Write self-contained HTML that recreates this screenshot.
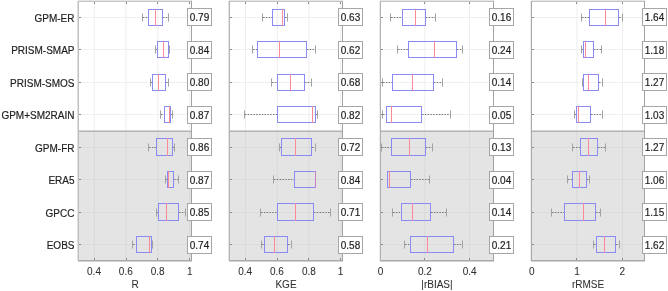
<!DOCTYPE html>
<html><head><meta charset="utf-8"><style>
html,body{margin:0;padding:0;background:#fff;width:668px;height:291px;overflow:hidden}
svg{display:block;will-change:transform}
.k{font-family:"Liberation Sans",sans-serif;font-size:10px;fill:#2e2e2e;stroke:#2e2e2e;stroke-width:0.05px}
.t{font-family:"Liberation Sans",sans-serif;font-size:10px;fill:#1e1e1e;stroke:#1e1e1e;stroke-width:0.18px}
</style></head><body>
<svg width="668" height="291" viewBox="0 0 668 291">
<g shape-rendering="crispEdges">
<rect x="79" y="132" width="112" height="128" fill="#e4e4e4"/>
<rect x="93" y="2" width="1" height="130" fill="#fcfcfc"/>
<rect x="93" y="132" width="1" height="128" fill="#e2e2e2"/>
<rect x="94" y="2" width="1" height="130" fill="#f1f1f1"/>
<rect x="94" y="132" width="1" height="128" fill="#dbdbdb"/>
<rect x="125" y="2" width="1" height="130" fill="#f6f6f6"/>
<rect x="125" y="132" width="1" height="128" fill="#dedede"/>
<rect x="126" y="2" width="1" height="130" fill="#f6f6f6"/>
<rect x="126" y="132" width="1" height="128" fill="#dedede"/>
<rect x="157" y="2" width="1" height="130" fill="#f5f5f5"/>
<rect x="157" y="132" width="1" height="128" fill="#dddddd"/>
<rect x="158" y="2" width="1" height="130" fill="#f8f8f8"/>
<rect x="158" y="132" width="1" height="128" fill="#e0e0e0"/>
<rect x="189" y="2" width="1" height="130" fill="#f1f1f1"/>
<rect x="189" y="132" width="1" height="128" fill="#dbdbdb"/>
<rect x="190" y="2" width="1" height="130" fill="#fcfcfc"/>
<rect x="190" y="132" width="1" height="128" fill="#e2e2e2"/>
<rect x="79" y="17" width="112" height="1" fill="#f0f0f0"/>
<rect x="79" y="49" width="112" height="1" fill="#f0f0f0"/>
<rect x="79" y="82" width="112" height="1" fill="#f0f0f0"/>
<rect x="79" y="114" width="112" height="1" fill="#f0f0f0"/>
<rect x="79" y="147" width="112" height="1" fill="#dcdcdc"/>
<rect x="79" y="179" width="112" height="1" fill="#dcdcdc"/>
<rect x="79" y="212" width="112" height="1" fill="#dcdcdc"/>
<rect x="79" y="244" width="112" height="1" fill="#dcdcdc"/>
<rect x="79" y="130" width="112" height="1" fill="#d6d6d6"/>
<rect x="79" y="131" width="112" height="1" fill="#b4b4b4"/>
<line x1="143" y1="17.5" x2="148" y2="17.5" stroke="#787878" stroke-width="1" stroke-dasharray="1.5,1.3" shape-rendering="auto"/>
<line x1="163" y1="17.5" x2="168" y2="17.5" stroke="#787878" stroke-width="1" stroke-dasharray="1.5,1.3" shape-rendering="auto"/>
<rect x="142" y="13" width="1" height="9" fill="#cacaca"/>
<rect x="142" y="14" width="1" height="7" fill="#a2a2a2"/>
<rect x="168" y="13" width="1" height="9" fill="#cacaca"/>
<rect x="168" y="14" width="1" height="7" fill="#a2a2a2"/>
<rect x="148" y="9" width="15" height="1" fill="#8a8af4"/>
<rect x="148" y="25" width="15" height="1" fill="#8a8af4"/>
<rect x="148" y="9" width="1" height="17" fill="#8a8af4"/>
<rect x="162" y="9" width="1" height="17" fill="#8a8af4"/>
<rect x="155" y="9" width="1" height="17" fill="#fa8a96"/>
<line x1="156" y1="49.5" x2="157" y2="49.5" stroke="#787878" stroke-width="1" stroke-dasharray="1.5,1.3" shape-rendering="auto"/>
<rect x="155" y="45" width="1" height="9" fill="#cacaca"/>
<rect x="155" y="46" width="1" height="7" fill="#a2a2a2"/>
<rect x="169" y="45" width="1" height="9" fill="#cacaca"/>
<rect x="169" y="46" width="1" height="7" fill="#a2a2a2"/>
<rect x="157" y="41" width="12" height="1" fill="#8a8af4"/>
<rect x="157" y="57" width="12" height="1" fill="#8a8af4"/>
<rect x="157" y="41" width="1" height="17" fill="#8a8af4"/>
<rect x="168" y="41" width="1" height="17" fill="#8a8af4"/>
<rect x="163" y="41" width="1" height="17" fill="#fa8a96"/>
<line x1="151" y1="82.5" x2="152" y2="82.5" stroke="#787878" stroke-width="1" stroke-dasharray="1.5,1.3" shape-rendering="auto"/>
<line x1="166" y1="82.5" x2="168" y2="82.5" stroke="#787878" stroke-width="1" stroke-dasharray="1.5,1.3" shape-rendering="auto"/>
<rect x="150" y="78" width="1" height="9" fill="#cacaca"/>
<rect x="150" y="79" width="1" height="7" fill="#a2a2a2"/>
<rect x="168" y="78" width="1" height="9" fill="#cacaca"/>
<rect x="168" y="79" width="1" height="7" fill="#a2a2a2"/>
<rect x="152" y="74" width="14" height="1" fill="#8a8af4"/>
<rect x="152" y="90" width="14" height="1" fill="#8a8af4"/>
<rect x="152" y="74" width="1" height="17" fill="#8a8af4"/>
<rect x="165" y="74" width="1" height="17" fill="#8a8af4"/>
<rect x="158" y="74" width="1" height="17" fill="#fa8a96"/>
<line x1="161" y1="114.5" x2="164" y2="114.5" stroke="#787878" stroke-width="1" stroke-dasharray="1.5,1.3" shape-rendering="auto"/>
<line x1="171" y1="114.5" x2="172" y2="114.5" stroke="#787878" stroke-width="1" stroke-dasharray="1.5,1.3" shape-rendering="auto"/>
<rect x="160" y="110" width="1" height="9" fill="#cacaca"/>
<rect x="160" y="111" width="1" height="7" fill="#a2a2a2"/>
<rect x="172" y="110" width="1" height="9" fill="#cacaca"/>
<rect x="172" y="111" width="1" height="7" fill="#a2a2a2"/>
<rect x="164" y="106" width="7" height="1" fill="#8a8af4"/>
<rect x="164" y="122" width="7" height="1" fill="#8a8af4"/>
<rect x="164" y="106" width="1" height="17" fill="#8a8af4"/>
<rect x="170" y="106" width="1" height="17" fill="#8a8af4"/>
<rect x="169" y="106" width="1" height="17" fill="#fa8a96"/>
<line x1="149" y1="147.5" x2="156" y2="147.5" stroke="#787878" stroke-width="1" stroke-dasharray="1.5,1.3" shape-rendering="auto"/>
<line x1="173" y1="147.5" x2="174" y2="147.5" stroke="#787878" stroke-width="1" stroke-dasharray="1.5,1.3" shape-rendering="auto"/>
<rect x="148" y="143" width="1" height="9" fill="#c0c0c0"/>
<rect x="148" y="144" width="1" height="7" fill="#a2a2a2"/>
<rect x="174" y="143" width="1" height="9" fill="#c0c0c0"/>
<rect x="174" y="144" width="1" height="7" fill="#a2a2a2"/>
<rect x="156" y="138" width="17" height="1" fill="#8a8af4"/>
<rect x="156" y="155" width="17" height="1" fill="#8a8af4"/>
<rect x="156" y="138" width="1" height="18" fill="#8a8af4"/>
<rect x="172" y="138" width="1" height="18" fill="#8a8af4"/>
<rect x="167" y="138" width="1" height="18" fill="#fa8a96"/>
<line x1="166" y1="179.5" x2="167" y2="179.5" stroke="#787878" stroke-width="1" stroke-dasharray="1.5,1.3" shape-rendering="auto"/>
<line x1="174" y1="179.5" x2="178" y2="179.5" stroke="#787878" stroke-width="1" stroke-dasharray="1.5,1.3" shape-rendering="auto"/>
<rect x="165" y="175" width="1" height="9" fill="#c0c0c0"/>
<rect x="165" y="176" width="1" height="7" fill="#a2a2a2"/>
<rect x="178" y="175" width="1" height="9" fill="#c0c0c0"/>
<rect x="178" y="176" width="1" height="7" fill="#a2a2a2"/>
<rect x="167" y="171" width="7" height="1" fill="#8a8af4"/>
<rect x="167" y="187" width="7" height="1" fill="#8a8af4"/>
<rect x="167" y="171" width="1" height="17" fill="#8a8af4"/>
<rect x="173" y="171" width="1" height="17" fill="#8a8af4"/>
<rect x="168" y="171" width="1" height="17" fill="#fa8a96"/>
<line x1="157" y1="212.5" x2="158" y2="212.5" stroke="#787878" stroke-width="1" stroke-dasharray="1.5,1.3" shape-rendering="auto"/>
<line x1="179" y1="212.5" x2="185" y2="212.5" stroke="#787878" stroke-width="1" stroke-dasharray="1.5,1.3" shape-rendering="auto"/>
<rect x="156" y="208" width="1" height="9" fill="#c0c0c0"/>
<rect x="156" y="209" width="1" height="7" fill="#a2a2a2"/>
<rect x="185" y="208" width="1" height="9" fill="#c0c0c0"/>
<rect x="185" y="209" width="1" height="7" fill="#a2a2a2"/>
<rect x="158" y="203" width="21" height="1" fill="#8a8af4"/>
<rect x="158" y="220" width="21" height="1" fill="#8a8af4"/>
<rect x="158" y="203" width="1" height="18" fill="#8a8af4"/>
<rect x="178" y="203" width="1" height="18" fill="#8a8af4"/>
<rect x="166" y="203" width="1" height="18" fill="#fa8a96"/>
<line x1="133" y1="244.5" x2="136" y2="244.5" stroke="#787878" stroke-width="1" stroke-dasharray="1.5,1.3" shape-rendering="auto"/>
<rect x="132" y="240" width="1" height="9" fill="#c0c0c0"/>
<rect x="132" y="241" width="1" height="7" fill="#a2a2a2"/>
<rect x="152" y="240" width="1" height="9" fill="#c0c0c0"/>
<rect x="152" y="241" width="1" height="7" fill="#a2a2a2"/>
<rect x="136" y="236" width="16" height="1" fill="#8a8af4"/>
<rect x="136" y="252" width="16" height="1" fill="#8a8af4"/>
<rect x="136" y="236" width="1" height="17" fill="#8a8af4"/>
<rect x="151" y="236" width="1" height="17" fill="#8a8af4"/>
<rect x="149" y="236" width="1" height="17" fill="#fa8a96"/>
<rect x="78" y="1" width="114" height="1" fill="#c4c4c4"/>
<rect x="78" y="0" width="114" height="1" fill="#e6e6e6"/>
<rect x="78" y="260" width="114" height="1" fill="#aaaaaa"/>
<rect x="78" y="261" width="114" height="1" fill="#d2d2d2"/>
<rect x="78" y="1" width="1" height="260" fill="#c0c0c0"/>
<rect x="77" y="1" width="1" height="260" fill="#e0e0e0"/>
<rect x="191" y="1" width="1" height="260" fill="#a2a2a2"/>
<rect x="94" y="2" width="1" height="2" fill="#8a8a8a"/>
<rect x="94" y="258" width="1" height="2" fill="#8a8a8a"/>
<rect x="126" y="2" width="1" height="2" fill="#8a8a8a"/>
<rect x="126" y="258" width="1" height="2" fill="#8a8a8a"/>
<rect x="157" y="2" width="1" height="2" fill="#8a8a8a"/>
<rect x="157" y="258" width="1" height="2" fill="#8a8a8a"/>
<rect x="189" y="2" width="1" height="2" fill="#8a8a8a"/>
<rect x="189" y="258" width="1" height="2" fill="#8a8a8a"/>
<rect x="79" y="17" width="2" height="1" fill="#8a8a8a"/>
<rect x="189" y="17" width="2" height="1" fill="#8a8a8a"/>
<rect x="79" y="49" width="2" height="1" fill="#8a8a8a"/>
<rect x="189" y="49" width="2" height="1" fill="#8a8a8a"/>
<rect x="79" y="82" width="2" height="1" fill="#8a8a8a"/>
<rect x="189" y="82" width="2" height="1" fill="#8a8a8a"/>
<rect x="79" y="114" width="2" height="1" fill="#8a8a8a"/>
<rect x="189" y="114" width="2" height="1" fill="#8a8a8a"/>
<rect x="79" y="147" width="2" height="1" fill="#8a8a8a"/>
<rect x="189" y="147" width="2" height="1" fill="#8a8a8a"/>
<rect x="79" y="179" width="2" height="1" fill="#8a8a8a"/>
<rect x="189" y="179" width="2" height="1" fill="#8a8a8a"/>
<rect x="79" y="212" width="2" height="1" fill="#8a8a8a"/>
<rect x="189" y="212" width="2" height="1" fill="#8a8a8a"/>
<rect x="79" y="244" width="2" height="1" fill="#8a8a8a"/>
<rect x="189" y="244" width="2" height="1" fill="#8a8a8a"/>
<rect x="187" y="8" width="25" height="18" fill="#a6a6a6"/>
<rect x="188" y="9" width="23" height="16" fill="#fff"/>
<rect x="187" y="41" width="25" height="18" fill="#a6a6a6"/>
<rect x="188" y="42" width="23" height="16" fill="#fff"/>
<rect x="187" y="73" width="25" height="18" fill="#a6a6a6"/>
<rect x="188" y="74" width="23" height="16" fill="#fff"/>
<rect x="187" y="106" width="25" height="18" fill="#a6a6a6"/>
<rect x="188" y="107" width="23" height="16" fill="#fff"/>
<rect x="187" y="138" width="25" height="18" fill="#a6a6a6"/>
<rect x="188" y="139" width="23" height="16" fill="#fff"/>
<rect x="187" y="171" width="25" height="18" fill="#a6a6a6"/>
<rect x="188" y="172" width="23" height="16" fill="#fff"/>
<rect x="187" y="203" width="25" height="18" fill="#a6a6a6"/>
<rect x="188" y="204" width="23" height="16" fill="#fff"/>
<rect x="187" y="236" width="25" height="18" fill="#a6a6a6"/>
<rect x="188" y="237" width="23" height="16" fill="#fff"/>
<rect x="230" y="132" width="112" height="128" fill="#e4e4e4"/>
<rect x="245" y="2" width="1" height="130" fill="#eeeeee"/>
<rect x="245" y="132" width="1" height="128" fill="#d9d9d9"/>
<rect x="276" y="2" width="1" height="130" fill="#fbfbfb"/>
<rect x="276" y="132" width="1" height="128" fill="#e1e1e1"/>
<rect x="277" y="2" width="1" height="130" fill="#f2f2f2"/>
<rect x="277" y="132" width="1" height="128" fill="#dcdcdc"/>
<rect x="308" y="2" width="1" height="130" fill="#f6f6f6"/>
<rect x="308" y="132" width="1" height="128" fill="#dedede"/>
<rect x="309" y="2" width="1" height="130" fill="#f6f6f6"/>
<rect x="309" y="132" width="1" height="128" fill="#dedede"/>
<rect x="340" y="2" width="1" height="130" fill="#f2f2f2"/>
<rect x="340" y="132" width="1" height="128" fill="#dcdcdc"/>
<rect x="341" y="2" width="1" height="130" fill="#fbfbfb"/>
<rect x="341" y="132" width="1" height="128" fill="#e1e1e1"/>
<rect x="230" y="17" width="112" height="1" fill="#f0f0f0"/>
<rect x="230" y="49" width="112" height="1" fill="#f0f0f0"/>
<rect x="230" y="82" width="112" height="1" fill="#f0f0f0"/>
<rect x="230" y="114" width="112" height="1" fill="#f0f0f0"/>
<rect x="230" y="147" width="112" height="1" fill="#dcdcdc"/>
<rect x="230" y="179" width="112" height="1" fill="#dcdcdc"/>
<rect x="230" y="212" width="112" height="1" fill="#dcdcdc"/>
<rect x="230" y="244" width="112" height="1" fill="#dcdcdc"/>
<rect x="230" y="130" width="112" height="1" fill="#d6d6d6"/>
<rect x="230" y="131" width="112" height="1" fill="#b4b4b4"/>
<line x1="263" y1="17.5" x2="272" y2="17.5" stroke="#787878" stroke-width="1" stroke-dasharray="1.5,1.3" shape-rendering="auto"/>
<line x1="285" y1="17.5" x2="287" y2="17.5" stroke="#787878" stroke-width="1" stroke-dasharray="1.5,1.3" shape-rendering="auto"/>
<rect x="262" y="13" width="1" height="9" fill="#cacaca"/>
<rect x="262" y="14" width="1" height="7" fill="#a2a2a2"/>
<rect x="287" y="13" width="1" height="9" fill="#cacaca"/>
<rect x="287" y="14" width="1" height="7" fill="#a2a2a2"/>
<rect x="272" y="9" width="13" height="1" fill="#8a8af4"/>
<rect x="272" y="25" width="13" height="1" fill="#8a8af4"/>
<rect x="272" y="9" width="1" height="17" fill="#8a8af4"/>
<rect x="284" y="9" width="1" height="17" fill="#8a8af4"/>
<rect x="282" y="9" width="1" height="17" fill="#fa8a96"/>
<line x1="253" y1="49.5" x2="257" y2="49.5" stroke="#787878" stroke-width="1" stroke-dasharray="1.5,1.3" shape-rendering="auto"/>
<line x1="307" y1="49.5" x2="315" y2="49.5" stroke="#787878" stroke-width="1" stroke-dasharray="1.5,1.3" shape-rendering="auto"/>
<rect x="252" y="45" width="1" height="9" fill="#cacaca"/>
<rect x="252" y="46" width="1" height="7" fill="#a2a2a2"/>
<rect x="315" y="45" width="1" height="9" fill="#cacaca"/>
<rect x="315" y="46" width="1" height="7" fill="#a2a2a2"/>
<rect x="257" y="41" width="50" height="1" fill="#8a8af4"/>
<rect x="257" y="57" width="50" height="1" fill="#8a8af4"/>
<rect x="257" y="41" width="1" height="17" fill="#8a8af4"/>
<rect x="306" y="41" width="1" height="17" fill="#8a8af4"/>
<rect x="279" y="41" width="1" height="17" fill="#fa8a96"/>
<line x1="272" y1="82.5" x2="277" y2="82.5" stroke="#787878" stroke-width="1" stroke-dasharray="1.5,1.3" shape-rendering="auto"/>
<line x1="305" y1="82.5" x2="311" y2="82.5" stroke="#787878" stroke-width="1" stroke-dasharray="1.5,1.3" shape-rendering="auto"/>
<rect x="271" y="78" width="1" height="9" fill="#cacaca"/>
<rect x="271" y="79" width="1" height="7" fill="#a2a2a2"/>
<rect x="311" y="78" width="1" height="9" fill="#cacaca"/>
<rect x="311" y="79" width="1" height="7" fill="#a2a2a2"/>
<rect x="277" y="74" width="28" height="1" fill="#8a8af4"/>
<rect x="277" y="90" width="28" height="1" fill="#8a8af4"/>
<rect x="277" y="74" width="1" height="17" fill="#8a8af4"/>
<rect x="304" y="74" width="1" height="17" fill="#8a8af4"/>
<rect x="290" y="74" width="1" height="17" fill="#fa8a96"/>
<line x1="245" y1="114.5" x2="277" y2="114.5" stroke="#787878" stroke-width="1" stroke-dasharray="1.5,1.3" shape-rendering="auto"/>
<line x1="316" y1="114.5" x2="317" y2="114.5" stroke="#787878" stroke-width="1" stroke-dasharray="1.5,1.3" shape-rendering="auto"/>
<rect x="244" y="110" width="1" height="9" fill="#cacaca"/>
<rect x="244" y="111" width="1" height="7" fill="#a2a2a2"/>
<rect x="317" y="110" width="1" height="9" fill="#cacaca"/>
<rect x="317" y="111" width="1" height="7" fill="#a2a2a2"/>
<rect x="277" y="106" width="39" height="1" fill="#8a8af4"/>
<rect x="277" y="122" width="39" height="1" fill="#8a8af4"/>
<rect x="277" y="106" width="1" height="17" fill="#8a8af4"/>
<rect x="315" y="106" width="1" height="17" fill="#8a8af4"/>
<rect x="312" y="106" width="1" height="17" fill="#fa8a96"/>
<line x1="280" y1="147.5" x2="281" y2="147.5" stroke="#787878" stroke-width="1" stroke-dasharray="1.5,1.3" shape-rendering="auto"/>
<line x1="312" y1="147.5" x2="315" y2="147.5" stroke="#787878" stroke-width="1" stroke-dasharray="1.5,1.3" shape-rendering="auto"/>
<rect x="279" y="143" width="1" height="9" fill="#c0c0c0"/>
<rect x="279" y="144" width="1" height="7" fill="#a2a2a2"/>
<rect x="315" y="143" width="1" height="9" fill="#c0c0c0"/>
<rect x="315" y="144" width="1" height="7" fill="#a2a2a2"/>
<rect x="281" y="138" width="31" height="1" fill="#8a8af4"/>
<rect x="281" y="155" width="31" height="1" fill="#8a8af4"/>
<rect x="281" y="138" width="1" height="18" fill="#8a8af4"/>
<rect x="311" y="138" width="1" height="18" fill="#8a8af4"/>
<rect x="295" y="138" width="1" height="18" fill="#fa8a96"/>
<line x1="274" y1="179.5" x2="294" y2="179.5" stroke="#787878" stroke-width="1" stroke-dasharray="1.5,1.3" shape-rendering="auto"/>
<rect x="273" y="175" width="1" height="9" fill="#c0c0c0"/>
<rect x="273" y="176" width="1" height="7" fill="#a2a2a2"/>
<rect x="315" y="175" width="1" height="9" fill="#c0c0c0"/>
<rect x="315" y="176" width="1" height="7" fill="#a2a2a2"/>
<rect x="294" y="171" width="22" height="1" fill="#8a8af4"/>
<rect x="294" y="187" width="22" height="1" fill="#8a8af4"/>
<rect x="294" y="171" width="1" height="17" fill="#8a8af4"/>
<rect x="315" y="171" width="1" height="17" fill="#8a8af4"/>
<rect x="315" y="171" width="1" height="17" fill="#c680c8"/>
<line x1="261" y1="212.5" x2="277" y2="212.5" stroke="#787878" stroke-width="1" stroke-dasharray="1.5,1.3" shape-rendering="auto"/>
<line x1="314" y1="212.5" x2="330" y2="212.5" stroke="#787878" stroke-width="1" stroke-dasharray="1.5,1.3" shape-rendering="auto"/>
<rect x="260" y="208" width="1" height="9" fill="#c0c0c0"/>
<rect x="260" y="209" width="1" height="7" fill="#a2a2a2"/>
<rect x="330" y="208" width="1" height="9" fill="#c0c0c0"/>
<rect x="330" y="209" width="1" height="7" fill="#a2a2a2"/>
<rect x="277" y="203" width="37" height="1" fill="#8a8af4"/>
<rect x="277" y="220" width="37" height="1" fill="#8a8af4"/>
<rect x="277" y="203" width="1" height="18" fill="#8a8af4"/>
<rect x="313" y="203" width="1" height="18" fill="#8a8af4"/>
<rect x="295" y="203" width="1" height="18" fill="#fa8a96"/>
<line x1="262" y1="244.5" x2="264" y2="244.5" stroke="#787878" stroke-width="1" stroke-dasharray="1.5,1.3" shape-rendering="auto"/>
<line x1="288" y1="244.5" x2="291" y2="244.5" stroke="#787878" stroke-width="1" stroke-dasharray="1.5,1.3" shape-rendering="auto"/>
<rect x="261" y="240" width="1" height="9" fill="#c0c0c0"/>
<rect x="261" y="241" width="1" height="7" fill="#a2a2a2"/>
<rect x="291" y="240" width="1" height="9" fill="#c0c0c0"/>
<rect x="291" y="241" width="1" height="7" fill="#a2a2a2"/>
<rect x="264" y="236" width="24" height="1" fill="#8a8af4"/>
<rect x="264" y="252" width="24" height="1" fill="#8a8af4"/>
<rect x="264" y="236" width="1" height="17" fill="#8a8af4"/>
<rect x="287" y="236" width="1" height="17" fill="#8a8af4"/>
<rect x="274" y="236" width="1" height="17" fill="#fa8a96"/>
<rect x="229" y="1" width="114" height="1" fill="#c4c4c4"/>
<rect x="229" y="0" width="114" height="1" fill="#e6e6e6"/>
<rect x="229" y="260" width="114" height="1" fill="#aaaaaa"/>
<rect x="229" y="261" width="114" height="1" fill="#d2d2d2"/>
<rect x="229" y="1" width="1" height="260" fill="#b4b4b4"/>
<rect x="228" y="1" width="1" height="260" fill="#e4e4e4"/>
<rect x="342" y="1" width="1" height="260" fill="#a2a2a2"/>
<rect x="245" y="2" width="1" height="2" fill="#8a8a8a"/>
<rect x="245" y="258" width="1" height="2" fill="#8a8a8a"/>
<rect x="277" y="2" width="1" height="2" fill="#8a8a8a"/>
<rect x="277" y="258" width="1" height="2" fill="#8a8a8a"/>
<rect x="308" y="2" width="1" height="2" fill="#8a8a8a"/>
<rect x="308" y="258" width="1" height="2" fill="#8a8a8a"/>
<rect x="340" y="2" width="1" height="2" fill="#8a8a8a"/>
<rect x="340" y="258" width="1" height="2" fill="#8a8a8a"/>
<rect x="230" y="17" width="2" height="1" fill="#8a8a8a"/>
<rect x="340" y="17" width="2" height="1" fill="#8a8a8a"/>
<rect x="230" y="49" width="2" height="1" fill="#8a8a8a"/>
<rect x="340" y="49" width="2" height="1" fill="#8a8a8a"/>
<rect x="230" y="82" width="2" height="1" fill="#8a8a8a"/>
<rect x="340" y="82" width="2" height="1" fill="#8a8a8a"/>
<rect x="230" y="114" width="2" height="1" fill="#8a8a8a"/>
<rect x="340" y="114" width="2" height="1" fill="#8a8a8a"/>
<rect x="230" y="147" width="2" height="1" fill="#8a8a8a"/>
<rect x="340" y="147" width="2" height="1" fill="#8a8a8a"/>
<rect x="230" y="179" width="2" height="1" fill="#8a8a8a"/>
<rect x="340" y="179" width="2" height="1" fill="#8a8a8a"/>
<rect x="230" y="212" width="2" height="1" fill="#8a8a8a"/>
<rect x="340" y="212" width="2" height="1" fill="#8a8a8a"/>
<rect x="230" y="244" width="2" height="1" fill="#8a8a8a"/>
<rect x="340" y="244" width="2" height="1" fill="#8a8a8a"/>
<rect x="338" y="8" width="25" height="18" fill="#a6a6a6"/>
<rect x="339" y="9" width="23" height="16" fill="#fff"/>
<rect x="338" y="41" width="25" height="18" fill="#a6a6a6"/>
<rect x="339" y="42" width="23" height="16" fill="#fff"/>
<rect x="338" y="73" width="25" height="18" fill="#a6a6a6"/>
<rect x="339" y="74" width="23" height="16" fill="#fff"/>
<rect x="338" y="106" width="25" height="18" fill="#a6a6a6"/>
<rect x="339" y="107" width="23" height="16" fill="#fff"/>
<rect x="338" y="138" width="25" height="18" fill="#a6a6a6"/>
<rect x="339" y="139" width="23" height="16" fill="#fff"/>
<rect x="338" y="171" width="25" height="18" fill="#a6a6a6"/>
<rect x="339" y="172" width="23" height="16" fill="#fff"/>
<rect x="338" y="203" width="25" height="18" fill="#a6a6a6"/>
<rect x="339" y="204" width="23" height="16" fill="#fff"/>
<rect x="338" y="236" width="25" height="18" fill="#a6a6a6"/>
<rect x="339" y="237" width="23" height="16" fill="#fff"/>
<rect x="381" y="132" width="112" height="128" fill="#e4e4e4"/>
<rect x="424" y="2" width="1" height="130" fill="#f3f3f3"/>
<rect x="424" y="132" width="1" height="128" fill="#dcdcdc"/>
<rect x="425" y="2" width="1" height="130" fill="#fafafa"/>
<rect x="425" y="132" width="1" height="128" fill="#e1e1e1"/>
<rect x="469" y="2" width="1" height="130" fill="#eeeeee"/>
<rect x="469" y="132" width="1" height="128" fill="#d9d9d9"/>
<rect x="381" y="17" width="112" height="1" fill="#f0f0f0"/>
<rect x="381" y="49" width="112" height="1" fill="#f0f0f0"/>
<rect x="381" y="82" width="112" height="1" fill="#f0f0f0"/>
<rect x="381" y="114" width="112" height="1" fill="#f0f0f0"/>
<rect x="381" y="147" width="112" height="1" fill="#dcdcdc"/>
<rect x="381" y="179" width="112" height="1" fill="#dcdcdc"/>
<rect x="381" y="212" width="112" height="1" fill="#dcdcdc"/>
<rect x="381" y="244" width="112" height="1" fill="#dcdcdc"/>
<rect x="381" y="130" width="112" height="1" fill="#d6d6d6"/>
<rect x="381" y="131" width="112" height="1" fill="#b4b4b4"/>
<line x1="391" y1="17.5" x2="402" y2="17.5" stroke="#787878" stroke-width="1" stroke-dasharray="1.5,1.3" shape-rendering="auto"/>
<line x1="426" y1="17.5" x2="435" y2="17.5" stroke="#787878" stroke-width="1" stroke-dasharray="1.5,1.3" shape-rendering="auto"/>
<rect x="390" y="13" width="1" height="9" fill="#cacaca"/>
<rect x="390" y="14" width="1" height="7" fill="#a2a2a2"/>
<rect x="435" y="13" width="1" height="9" fill="#cacaca"/>
<rect x="435" y="14" width="1" height="7" fill="#a2a2a2"/>
<rect x="402" y="9" width="24" height="1" fill="#8a8af4"/>
<rect x="402" y="25" width="24" height="1" fill="#8a8af4"/>
<rect x="402" y="9" width="1" height="17" fill="#8a8af4"/>
<rect x="425" y="9" width="1" height="17" fill="#8a8af4"/>
<rect x="415" y="9" width="1" height="17" fill="#fa8a96"/>
<line x1="398" y1="49.5" x2="408" y2="49.5" stroke="#787878" stroke-width="1" stroke-dasharray="1.5,1.3" shape-rendering="auto"/>
<line x1="457" y1="49.5" x2="462" y2="49.5" stroke="#787878" stroke-width="1" stroke-dasharray="1.5,1.3" shape-rendering="auto"/>
<rect x="397" y="45" width="1" height="9" fill="#cacaca"/>
<rect x="397" y="46" width="1" height="7" fill="#a2a2a2"/>
<rect x="462" y="45" width="1" height="9" fill="#cacaca"/>
<rect x="462" y="46" width="1" height="7" fill="#a2a2a2"/>
<rect x="408" y="41" width="49" height="1" fill="#8a8af4"/>
<rect x="408" y="57" width="49" height="1" fill="#8a8af4"/>
<rect x="408" y="41" width="1" height="17" fill="#8a8af4"/>
<rect x="456" y="41" width="1" height="17" fill="#8a8af4"/>
<rect x="434" y="41" width="1" height="17" fill="#fa8a96"/>
<line x1="383" y1="82.5" x2="392" y2="82.5" stroke="#787878" stroke-width="1" stroke-dasharray="1.5,1.3" shape-rendering="auto"/>
<line x1="434" y1="82.5" x2="442" y2="82.5" stroke="#787878" stroke-width="1" stroke-dasharray="1.5,1.3" shape-rendering="auto"/>
<rect x="382" y="78" width="1" height="9" fill="#cacaca"/>
<rect x="382" y="79" width="1" height="7" fill="#a2a2a2"/>
<rect x="442" y="78" width="1" height="9" fill="#cacaca"/>
<rect x="442" y="79" width="1" height="7" fill="#a2a2a2"/>
<rect x="392" y="74" width="42" height="1" fill="#8a8af4"/>
<rect x="392" y="90" width="42" height="1" fill="#8a8af4"/>
<rect x="392" y="74" width="1" height="17" fill="#8a8af4"/>
<rect x="433" y="74" width="1" height="17" fill="#8a8af4"/>
<rect x="412" y="74" width="1" height="17" fill="#fa8a96"/>
<line x1="383" y1="114.5" x2="386" y2="114.5" stroke="#787878" stroke-width="1" stroke-dasharray="1.5,1.3" shape-rendering="auto"/>
<line x1="422" y1="114.5" x2="450" y2="114.5" stroke="#787878" stroke-width="1" stroke-dasharray="1.5,1.3" shape-rendering="auto"/>
<rect x="382" y="110" width="1" height="9" fill="#cacaca"/>
<rect x="382" y="111" width="1" height="7" fill="#a2a2a2"/>
<rect x="450" y="110" width="1" height="9" fill="#cacaca"/>
<rect x="450" y="111" width="1" height="7" fill="#a2a2a2"/>
<rect x="386" y="106" width="36" height="1" fill="#8a8af4"/>
<rect x="386" y="122" width="36" height="1" fill="#8a8af4"/>
<rect x="386" y="106" width="1" height="17" fill="#8a8af4"/>
<rect x="421" y="106" width="1" height="17" fill="#8a8af4"/>
<rect x="391" y="106" width="1" height="17" fill="#fa8a96"/>
<line x1="382" y1="147.5" x2="391" y2="147.5" stroke="#787878" stroke-width="1" stroke-dasharray="1.5,1.3" shape-rendering="auto"/>
<line x1="426" y1="147.5" x2="432" y2="147.5" stroke="#787878" stroke-width="1" stroke-dasharray="1.5,1.3" shape-rendering="auto"/>
<rect x="381" y="143" width="1" height="9" fill="#c0c0c0"/>
<rect x="381" y="144" width="1" height="7" fill="#a2a2a2"/>
<rect x="432" y="143" width="1" height="9" fill="#c0c0c0"/>
<rect x="432" y="144" width="1" height="7" fill="#a2a2a2"/>
<rect x="391" y="138" width="35" height="1" fill="#8a8af4"/>
<rect x="391" y="155" width="35" height="1" fill="#8a8af4"/>
<rect x="391" y="138" width="1" height="18" fill="#8a8af4"/>
<rect x="425" y="138" width="1" height="18" fill="#8a8af4"/>
<rect x="409" y="138" width="1" height="18" fill="#fa8a96"/>
<line x1="411" y1="179.5" x2="429" y2="179.5" stroke="#787878" stroke-width="1" stroke-dasharray="1.5,1.3" shape-rendering="auto"/>
<rect x="387" y="175" width="1" height="9" fill="#c0c0c0"/>
<rect x="387" y="176" width="1" height="7" fill="#a2a2a2"/>
<rect x="429" y="175" width="1" height="9" fill="#c0c0c0"/>
<rect x="429" y="176" width="1" height="7" fill="#a2a2a2"/>
<rect x="387" y="171" width="24" height="1" fill="#8a8af4"/>
<rect x="387" y="187" width="24" height="1" fill="#8a8af4"/>
<rect x="387" y="171" width="1" height="17" fill="#8a8af4"/>
<rect x="410" y="171" width="1" height="17" fill="#8a8af4"/>
<rect x="389" y="171" width="1" height="17" fill="#fa8a96"/>
<line x1="393" y1="212.5" x2="401" y2="212.5" stroke="#787878" stroke-width="1" stroke-dasharray="1.5,1.3" shape-rendering="auto"/>
<line x1="431" y1="212.5" x2="446" y2="212.5" stroke="#787878" stroke-width="1" stroke-dasharray="1.5,1.3" shape-rendering="auto"/>
<rect x="392" y="208" width="1" height="9" fill="#c0c0c0"/>
<rect x="392" y="209" width="1" height="7" fill="#a2a2a2"/>
<rect x="446" y="208" width="1" height="9" fill="#c0c0c0"/>
<rect x="446" y="209" width="1" height="7" fill="#a2a2a2"/>
<rect x="401" y="203" width="30" height="1" fill="#8a8af4"/>
<rect x="401" y="220" width="30" height="1" fill="#8a8af4"/>
<rect x="401" y="203" width="1" height="18" fill="#8a8af4"/>
<rect x="430" y="203" width="1" height="18" fill="#8a8af4"/>
<rect x="412" y="203" width="1" height="18" fill="#fa8a96"/>
<line x1="405" y1="244.5" x2="410" y2="244.5" stroke="#787878" stroke-width="1" stroke-dasharray="1.5,1.3" shape-rendering="auto"/>
<line x1="454" y1="244.5" x2="462" y2="244.5" stroke="#787878" stroke-width="1" stroke-dasharray="1.5,1.3" shape-rendering="auto"/>
<rect x="404" y="240" width="1" height="9" fill="#c0c0c0"/>
<rect x="404" y="241" width="1" height="7" fill="#a2a2a2"/>
<rect x="462" y="240" width="1" height="9" fill="#c0c0c0"/>
<rect x="462" y="241" width="1" height="7" fill="#a2a2a2"/>
<rect x="410" y="236" width="44" height="1" fill="#8a8af4"/>
<rect x="410" y="252" width="44" height="1" fill="#8a8af4"/>
<rect x="410" y="236" width="1" height="17" fill="#8a8af4"/>
<rect x="453" y="236" width="1" height="17" fill="#8a8af4"/>
<rect x="427" y="236" width="1" height="17" fill="#fa8a96"/>
<rect x="380" y="1" width="114" height="1" fill="#c4c4c4"/>
<rect x="380" y="0" width="114" height="1" fill="#e6e6e6"/>
<rect x="380" y="260" width="114" height="1" fill="#aaaaaa"/>
<rect x="380" y="261" width="114" height="1" fill="#d2d2d2"/>
<rect x="380" y="1" width="1" height="260" fill="#b0b0b0"/>
<rect x="379" y="1" width="1" height="260" fill="#ececec"/>
<rect x="493" y="1" width="1" height="260" fill="#a2a2a2"/>
<rect x="424" y="2" width="1" height="2" fill="#8a8a8a"/>
<rect x="424" y="258" width="1" height="2" fill="#8a8a8a"/>
<rect x="469" y="2" width="1" height="2" fill="#8a8a8a"/>
<rect x="469" y="258" width="1" height="2" fill="#8a8a8a"/>
<rect x="381" y="17" width="2" height="1" fill="#8a8a8a"/>
<rect x="491" y="17" width="2" height="1" fill="#8a8a8a"/>
<rect x="381" y="49" width="2" height="1" fill="#8a8a8a"/>
<rect x="491" y="49" width="2" height="1" fill="#8a8a8a"/>
<rect x="381" y="82" width="2" height="1" fill="#8a8a8a"/>
<rect x="491" y="82" width="2" height="1" fill="#8a8a8a"/>
<rect x="381" y="114" width="2" height="1" fill="#8a8a8a"/>
<rect x="491" y="114" width="2" height="1" fill="#8a8a8a"/>
<rect x="381" y="147" width="2" height="1" fill="#8a8a8a"/>
<rect x="491" y="147" width="2" height="1" fill="#8a8a8a"/>
<rect x="381" y="179" width="2" height="1" fill="#8a8a8a"/>
<rect x="491" y="179" width="2" height="1" fill="#8a8a8a"/>
<rect x="381" y="212" width="2" height="1" fill="#8a8a8a"/>
<rect x="491" y="212" width="2" height="1" fill="#8a8a8a"/>
<rect x="381" y="244" width="2" height="1" fill="#8a8a8a"/>
<rect x="491" y="244" width="2" height="1" fill="#8a8a8a"/>
<rect x="489" y="8" width="25" height="18" fill="#a6a6a6"/>
<rect x="490" y="9" width="23" height="16" fill="#fff"/>
<rect x="489" y="41" width="25" height="18" fill="#a6a6a6"/>
<rect x="490" y="42" width="23" height="16" fill="#fff"/>
<rect x="489" y="73" width="25" height="18" fill="#a6a6a6"/>
<rect x="490" y="74" width="23" height="16" fill="#fff"/>
<rect x="489" y="106" width="25" height="18" fill="#a6a6a6"/>
<rect x="490" y="107" width="23" height="16" fill="#fff"/>
<rect x="489" y="138" width="25" height="18" fill="#a6a6a6"/>
<rect x="490" y="139" width="23" height="16" fill="#fff"/>
<rect x="489" y="171" width="25" height="18" fill="#a6a6a6"/>
<rect x="490" y="172" width="23" height="16" fill="#fff"/>
<rect x="489" y="203" width="25" height="18" fill="#a6a6a6"/>
<rect x="490" y="204" width="23" height="16" fill="#fff"/>
<rect x="489" y="236" width="25" height="18" fill="#a6a6a6"/>
<rect x="490" y="237" width="23" height="16" fill="#fff"/>
<rect x="532" y="132" width="112" height="128" fill="#e4e4e4"/>
<rect x="576" y="2" width="1" height="130" fill="#f6f6f6"/>
<rect x="576" y="132" width="1" height="128" fill="#dedede"/>
<rect x="577" y="2" width="1" height="130" fill="#f6f6f6"/>
<rect x="577" y="132" width="1" height="128" fill="#dedede"/>
<rect x="621" y="2" width="1" height="130" fill="#fdfdfd"/>
<rect x="621" y="132" width="1" height="128" fill="#e3e3e3"/>
<rect x="622" y="2" width="1" height="130" fill="#f0f0f0"/>
<rect x="622" y="132" width="1" height="128" fill="#dadada"/>
<rect x="532" y="17" width="112" height="1" fill="#f0f0f0"/>
<rect x="532" y="49" width="112" height="1" fill="#f0f0f0"/>
<rect x="532" y="82" width="112" height="1" fill="#f0f0f0"/>
<rect x="532" y="114" width="112" height="1" fill="#f0f0f0"/>
<rect x="532" y="147" width="112" height="1" fill="#dcdcdc"/>
<rect x="532" y="179" width="112" height="1" fill="#dcdcdc"/>
<rect x="532" y="212" width="112" height="1" fill="#dcdcdc"/>
<rect x="532" y="244" width="112" height="1" fill="#dcdcdc"/>
<rect x="532" y="130" width="112" height="1" fill="#d6d6d6"/>
<rect x="532" y="131" width="112" height="1" fill="#b4b4b4"/>
<line x1="582" y1="17.5" x2="589" y2="17.5" stroke="#787878" stroke-width="1" stroke-dasharray="1.5,1.3" shape-rendering="auto"/>
<line x1="619" y1="17.5" x2="622" y2="17.5" stroke="#787878" stroke-width="1" stroke-dasharray="1.5,1.3" shape-rendering="auto"/>
<rect x="581" y="13" width="1" height="9" fill="#cacaca"/>
<rect x="581" y="14" width="1" height="7" fill="#a2a2a2"/>
<rect x="622" y="13" width="1" height="9" fill="#cacaca"/>
<rect x="622" y="14" width="1" height="7" fill="#a2a2a2"/>
<rect x="589" y="9" width="30" height="1" fill="#8a8af4"/>
<rect x="589" y="25" width="30" height="1" fill="#8a8af4"/>
<rect x="589" y="9" width="1" height="17" fill="#8a8af4"/>
<rect x="618" y="9" width="1" height="17" fill="#8a8af4"/>
<rect x="605" y="9" width="1" height="17" fill="#fa8a96"/>
<line x1="582" y1="49.5" x2="583" y2="49.5" stroke="#787878" stroke-width="1" stroke-dasharray="1.5,1.3" shape-rendering="auto"/>
<line x1="594" y1="49.5" x2="601" y2="49.5" stroke="#787878" stroke-width="1" stroke-dasharray="1.5,1.3" shape-rendering="auto"/>
<rect x="581" y="45" width="1" height="9" fill="#cacaca"/>
<rect x="581" y="46" width="1" height="7" fill="#a2a2a2"/>
<rect x="601" y="45" width="1" height="9" fill="#cacaca"/>
<rect x="601" y="46" width="1" height="7" fill="#a2a2a2"/>
<rect x="583" y="41" width="11" height="1" fill="#8a8af4"/>
<rect x="583" y="57" width="11" height="1" fill="#8a8af4"/>
<rect x="583" y="41" width="1" height="17" fill="#8a8af4"/>
<rect x="593" y="41" width="1" height="17" fill="#8a8af4"/>
<rect x="585" y="41" width="1" height="17" fill="#fa8a96"/>
<line x1="599" y1="82.5" x2="602" y2="82.5" stroke="#787878" stroke-width="1" stroke-dasharray="1.5,1.3" shape-rendering="auto"/>
<rect x="582" y="78" width="1" height="9" fill="#cacaca"/>
<rect x="582" y="79" width="1" height="7" fill="#a2a2a2"/>
<rect x="602" y="78" width="1" height="9" fill="#cacaca"/>
<rect x="602" y="79" width="1" height="7" fill="#a2a2a2"/>
<rect x="583" y="74" width="16" height="1" fill="#8a8af4"/>
<rect x="583" y="90" width="16" height="1" fill="#8a8af4"/>
<rect x="583" y="74" width="1" height="17" fill="#8a8af4"/>
<rect x="598" y="74" width="1" height="17" fill="#8a8af4"/>
<rect x="588" y="74" width="1" height="17" fill="#fa8a96"/>
<line x1="575" y1="114.5" x2="576" y2="114.5" stroke="#787878" stroke-width="1" stroke-dasharray="1.5,1.3" shape-rendering="auto"/>
<line x1="591" y1="114.5" x2="602" y2="114.5" stroke="#787878" stroke-width="1" stroke-dasharray="1.5,1.3" shape-rendering="auto"/>
<rect x="574" y="110" width="1" height="9" fill="#cacaca"/>
<rect x="574" y="111" width="1" height="7" fill="#a2a2a2"/>
<rect x="602" y="110" width="1" height="9" fill="#cacaca"/>
<rect x="602" y="111" width="1" height="7" fill="#a2a2a2"/>
<rect x="576" y="106" width="15" height="1" fill="#8a8af4"/>
<rect x="576" y="122" width="15" height="1" fill="#8a8af4"/>
<rect x="576" y="106" width="1" height="17" fill="#8a8af4"/>
<rect x="590" y="106" width="1" height="17" fill="#8a8af4"/>
<rect x="578" y="106" width="1" height="17" fill="#fa8a96"/>
<line x1="573" y1="147.5" x2="580" y2="147.5" stroke="#787878" stroke-width="1" stroke-dasharray="1.5,1.3" shape-rendering="auto"/>
<line x1="598" y1="147.5" x2="605" y2="147.5" stroke="#787878" stroke-width="1" stroke-dasharray="1.5,1.3" shape-rendering="auto"/>
<rect x="572" y="143" width="1" height="9" fill="#c0c0c0"/>
<rect x="572" y="144" width="1" height="7" fill="#a2a2a2"/>
<rect x="605" y="143" width="1" height="9" fill="#c0c0c0"/>
<rect x="605" y="144" width="1" height="7" fill="#a2a2a2"/>
<rect x="580" y="138" width="18" height="1" fill="#8a8af4"/>
<rect x="580" y="155" width="18" height="1" fill="#8a8af4"/>
<rect x="580" y="138" width="1" height="18" fill="#8a8af4"/>
<rect x="597" y="138" width="1" height="18" fill="#8a8af4"/>
<rect x="588" y="138" width="1" height="18" fill="#fa8a96"/>
<line x1="568" y1="179.5" x2="572" y2="179.5" stroke="#787878" stroke-width="1" stroke-dasharray="1.5,1.3" shape-rendering="auto"/>
<line x1="587" y1="179.5" x2="589" y2="179.5" stroke="#787878" stroke-width="1" stroke-dasharray="1.5,1.3" shape-rendering="auto"/>
<rect x="567" y="175" width="1" height="9" fill="#c0c0c0"/>
<rect x="567" y="176" width="1" height="7" fill="#a2a2a2"/>
<rect x="589" y="175" width="1" height="9" fill="#c0c0c0"/>
<rect x="589" y="176" width="1" height="7" fill="#a2a2a2"/>
<rect x="572" y="171" width="15" height="1" fill="#8a8af4"/>
<rect x="572" y="187" width="15" height="1" fill="#8a8af4"/>
<rect x="572" y="171" width="1" height="17" fill="#8a8af4"/>
<rect x="586" y="171" width="1" height="17" fill="#8a8af4"/>
<rect x="579" y="171" width="1" height="17" fill="#fa8a96"/>
<line x1="552" y1="212.5" x2="564" y2="212.5" stroke="#787878" stroke-width="1" stroke-dasharray="1.5,1.3" shape-rendering="auto"/>
<line x1="596" y1="212.5" x2="600" y2="212.5" stroke="#787878" stroke-width="1" stroke-dasharray="1.5,1.3" shape-rendering="auto"/>
<rect x="551" y="208" width="1" height="9" fill="#c0c0c0"/>
<rect x="551" y="209" width="1" height="7" fill="#a2a2a2"/>
<rect x="600" y="208" width="1" height="9" fill="#c0c0c0"/>
<rect x="600" y="209" width="1" height="7" fill="#a2a2a2"/>
<rect x="564" y="203" width="32" height="1" fill="#8a8af4"/>
<rect x="564" y="220" width="32" height="1" fill="#8a8af4"/>
<rect x="564" y="203" width="1" height="18" fill="#8a8af4"/>
<rect x="595" y="203" width="1" height="18" fill="#8a8af4"/>
<rect x="583" y="203" width="1" height="18" fill="#fa8a96"/>
<line x1="594" y1="244.5" x2="596" y2="244.5" stroke="#787878" stroke-width="1" stroke-dasharray="1.5,1.3" shape-rendering="auto"/>
<line x1="616" y1="244.5" x2="619" y2="244.5" stroke="#787878" stroke-width="1" stroke-dasharray="1.5,1.3" shape-rendering="auto"/>
<rect x="593" y="240" width="1" height="9" fill="#c0c0c0"/>
<rect x="593" y="241" width="1" height="7" fill="#a2a2a2"/>
<rect x="619" y="240" width="1" height="9" fill="#c0c0c0"/>
<rect x="619" y="241" width="1" height="7" fill="#a2a2a2"/>
<rect x="596" y="236" width="20" height="1" fill="#8a8af4"/>
<rect x="596" y="252" width="20" height="1" fill="#8a8af4"/>
<rect x="596" y="236" width="1" height="17" fill="#8a8af4"/>
<rect x="615" y="236" width="1" height="17" fill="#8a8af4"/>
<rect x="604" y="236" width="1" height="17" fill="#fa8a96"/>
<rect x="531" y="1" width="114" height="1" fill="#c4c4c4"/>
<rect x="531" y="0" width="114" height="1" fill="#e6e6e6"/>
<rect x="531" y="260" width="114" height="1" fill="#aaaaaa"/>
<rect x="531" y="261" width="114" height="1" fill="#d2d2d2"/>
<rect x="531" y="1" width="1" height="260" fill="#a8a8a8"/>
<rect x="530" y="1" width="1" height="260" fill="#eeeeee"/>
<rect x="644" y="1" width="1" height="260" fill="#a2a2a2"/>
<rect x="576" y="2" width="1" height="2" fill="#8a8a8a"/>
<rect x="576" y="258" width="1" height="2" fill="#8a8a8a"/>
<rect x="622" y="2" width="1" height="2" fill="#8a8a8a"/>
<rect x="622" y="258" width="1" height="2" fill="#8a8a8a"/>
<rect x="532" y="17" width="2" height="1" fill="#8a8a8a"/>
<rect x="642" y="17" width="2" height="1" fill="#8a8a8a"/>
<rect x="532" y="49" width="2" height="1" fill="#8a8a8a"/>
<rect x="642" y="49" width="2" height="1" fill="#8a8a8a"/>
<rect x="532" y="82" width="2" height="1" fill="#8a8a8a"/>
<rect x="642" y="82" width="2" height="1" fill="#8a8a8a"/>
<rect x="532" y="114" width="2" height="1" fill="#8a8a8a"/>
<rect x="642" y="114" width="2" height="1" fill="#8a8a8a"/>
<rect x="532" y="147" width="2" height="1" fill="#8a8a8a"/>
<rect x="642" y="147" width="2" height="1" fill="#8a8a8a"/>
<rect x="532" y="179" width="2" height="1" fill="#8a8a8a"/>
<rect x="642" y="179" width="2" height="1" fill="#8a8a8a"/>
<rect x="532" y="212" width="2" height="1" fill="#8a8a8a"/>
<rect x="642" y="212" width="2" height="1" fill="#8a8a8a"/>
<rect x="532" y="244" width="2" height="1" fill="#8a8a8a"/>
<rect x="642" y="244" width="2" height="1" fill="#8a8a8a"/>
<rect x="642" y="8" width="25" height="18" fill="#a6a6a6"/>
<rect x="643" y="9" width="23" height="16" fill="#fff"/>
<rect x="642" y="41" width="25" height="18" fill="#a6a6a6"/>
<rect x="643" y="42" width="23" height="16" fill="#fff"/>
<rect x="642" y="73" width="25" height="18" fill="#a6a6a6"/>
<rect x="643" y="74" width="23" height="16" fill="#fff"/>
<rect x="642" y="106" width="25" height="18" fill="#a6a6a6"/>
<rect x="643" y="107" width="23" height="16" fill="#fff"/>
<rect x="642" y="138" width="25" height="18" fill="#a6a6a6"/>
<rect x="643" y="139" width="23" height="16" fill="#fff"/>
<rect x="642" y="171" width="25" height="18" fill="#a6a6a6"/>
<rect x="643" y="172" width="23" height="16" fill="#fff"/>
<rect x="642" y="203" width="25" height="18" fill="#a6a6a6"/>
<rect x="643" y="204" width="23" height="16" fill="#fff"/>
<rect x="642" y="236" width="25" height="18" fill="#a6a6a6"/>
<rect x="643" y="237" width="23" height="16" fill="#fff"/>
</g>
<text x="199.5" y="21.3" text-anchor="middle" class="t">0.79</text>
<text x="199.5" y="54.3" text-anchor="middle" class="t">0.84</text>
<text x="199.5" y="86.3" text-anchor="middle" class="t">0.80</text>
<text x="199.5" y="119.3" text-anchor="middle" class="t">0.87</text>
<text x="199.5" y="151.3" text-anchor="middle" class="t">0.86</text>
<text x="199.5" y="184.3" text-anchor="middle" class="t">0.87</text>
<text x="199.5" y="216.3" text-anchor="middle" class="t">0.85</text>
<text x="199.5" y="249.3" text-anchor="middle" class="t">0.74</text>
<text x="94.0" y="274.6" text-anchor="middle" class="k">0.4</text>
<text x="125.8" y="274.6" text-anchor="middle" class="k">0.6</text>
<text x="157.7" y="274.6" text-anchor="middle" class="k">0.8</text>
<text x="189.8" y="274.6" text-anchor="middle" class="k">1</text>
<text x="135.0" y="287.5" text-anchor="middle" class="k">R</text>
<text x="350.5" y="21.3" text-anchor="middle" class="t">0.63</text>
<text x="350.5" y="54.3" text-anchor="middle" class="t">0.62</text>
<text x="350.5" y="86.3" text-anchor="middle" class="t">0.68</text>
<text x="350.5" y="119.3" text-anchor="middle" class="t">0.82</text>
<text x="350.5" y="151.3" text-anchor="middle" class="t">0.72</text>
<text x="350.5" y="184.3" text-anchor="middle" class="t">0.84</text>
<text x="350.5" y="216.3" text-anchor="middle" class="t">0.71</text>
<text x="350.5" y="249.3" text-anchor="middle" class="t">0.58</text>
<text x="245.2" y="274.6" text-anchor="middle" class="k">0.4</text>
<text x="276.9" y="274.6" text-anchor="middle" class="k">0.6</text>
<text x="308.9" y="274.6" text-anchor="middle" class="k">0.8</text>
<text x="340.6" y="274.6" text-anchor="middle" class="k">1</text>
<text x="286.0" y="287.5" text-anchor="middle" class="k">KGE</text>
<text x="501.5" y="21.3" text-anchor="middle" class="t">0.16</text>
<text x="501.5" y="54.3" text-anchor="middle" class="t">0.24</text>
<text x="501.5" y="86.3" text-anchor="middle" class="t">0.14</text>
<text x="501.5" y="119.3" text-anchor="middle" class="t">0.05</text>
<text x="501.5" y="151.3" text-anchor="middle" class="t">0.13</text>
<text x="501.5" y="184.3" text-anchor="middle" class="t">0.04</text>
<text x="501.5" y="216.3" text-anchor="middle" class="t">0.14</text>
<text x="501.5" y="249.3" text-anchor="middle" class="t">0.21</text>
<text x="380.5" y="274.6" text-anchor="middle" class="k">0</text>
<text x="424.9" y="274.6" text-anchor="middle" class="k">0.2</text>
<text x="469.6" y="274.6" text-anchor="middle" class="k">0.4</text>
<text x="437.0" y="287.5" text-anchor="middle" class="k">|rBIAS|</text>
<text x="654.5" y="21.3" text-anchor="middle" class="t">1.64</text>
<text x="654.5" y="54.3" text-anchor="middle" class="t">1.18</text>
<text x="654.5" y="86.3" text-anchor="middle" class="t">1.27</text>
<text x="654.5" y="119.3" text-anchor="middle" class="t">1.03</text>
<text x="654.5" y="151.3" text-anchor="middle" class="t">1.27</text>
<text x="654.5" y="184.3" text-anchor="middle" class="t">1.06</text>
<text x="654.5" y="216.3" text-anchor="middle" class="t">1.15</text>
<text x="654.5" y="249.3" text-anchor="middle" class="t">1.62</text>
<text x="531.7" y="274.6" text-anchor="middle" class="k">0</text>
<text x="577.0" y="274.6" text-anchor="middle" class="k">1</text>
<text x="622.4" y="274.6" text-anchor="middle" class="k">2</text>
<text x="588.0" y="287.5" text-anchor="middle" class="k">rRMSE</text>
<text x="74.5" y="22.2" text-anchor="end" class="t">GPM-ER</text>
<text x="74.5" y="54.2" text-anchor="end" class="t">PRISM-SMAP</text>
<text x="74.5" y="87.2" text-anchor="end" class="t">PRISM-SMOS</text>
<text x="74.5" y="119.2" text-anchor="end" class="t">GPM&#43;SM2RAIN</text>
<text x="74.5" y="152.2" text-anchor="end" class="t">GPM-FR</text>
<text x="74.5" y="184.2" text-anchor="end" class="t">ERA5</text>
<text x="74.5" y="217.2" text-anchor="end" class="t">GPCC</text>
<text x="74.5" y="249.2" text-anchor="end" class="t">EOBS</text>
</svg>
</body></html>
